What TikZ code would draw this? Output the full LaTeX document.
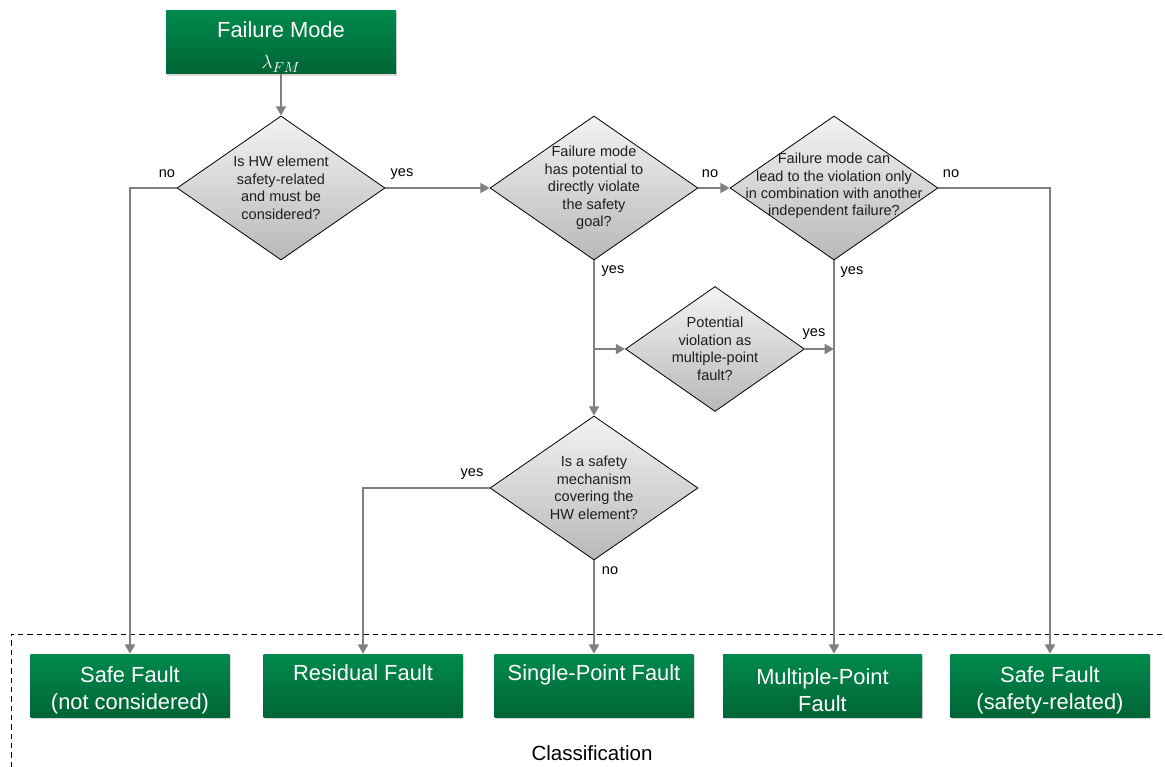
\documentclass[tikz,border=0pt]{standalone}
\usepackage{fontspec}
\setmainfont{Liberation Sans}
\usetikzlibrary{shapes.geometric,arrows.meta,shadows}
\definecolor{boxtop}{RGB}{0,138,76}
\definecolor{boxbot}{RGB}{0,101,54}
\definecolor{dtop}{RGB}{243,243,243}
\definecolor{dbot}{RGB}{184,184,184}
\definecolor{flow}{RGB}{128,128,128}
\definecolor{dtxt}{RGB}{30,30,30}

\begin{document}
\begin{tikzpicture}[x=0.75pt,y=-0.75pt,
  greenbox/.style={rectangle, inner sep=0pt, minimum width=149.25pt, minimum height=47.25pt,
    top color=boxtop, bottom color=boxbot,
    drop shadow={shadow xshift=0.9pt, shadow yshift=-1.6pt, opacity=0.3}},
  boxtext/.style={align=center, text=white, inner sep=0pt,
    font=\fontsize{16.4}{20.3}\selectfont},
  decision/.style={diamond, draw=black, line width=0.6pt, inner sep=0pt,
    top color=dtop, bottom color=dbot, minimum width=156pt, minimum height=108pt},
  smalldecision/.style={decision, minimum width=134.25pt, minimum height=93.75pt},
  qtext/.style={align=center, text=dtxt, inner sep=0pt,
    font=\fontsize{10.9}{13.1}\selectfont},
  answer/.style={font=\fontsize{10.9}{13.1}\selectfont, inner sep=0pt},
  flowarrow/.style={draw=flow, line width=1.4pt,
    -{Triangle[length=7pt,width=7.5pt]}}
]
\useasboundingbox (0,0) rectangle (1165,767);

% start node
\node[greenbox, minimum width=172.5pt,
  label={[boxtext, yshift=-3.5pt]center:{Failure Mode\\[3pt]{\fontsize{15}{17}\selectfont$\lambda_{FM}$}}}] (fm) at (281,42.5) {};

% decisions
\node[decision, label={[qtext]center:{Is HW element\\safety-related\\and must be\\considered?}}] (d1) at (281,188) {};
\node[decision, label={[qtext]center:{Failure mode\\has potential to\\directly violate\\the safety\\goal?}}] (d2) at (594,188) {};
\node[decision, label={[qtext, yshift=1.5pt]center:{Failure mode can\\lead to the violation only\\in combination with another\\independent failure?}}] (d3) at (834,188) {};
\node[smalldecision, label={[qtext]center:{Potential\\violation as\\multiple-point\\fault?}}] (d4) at (715,349) {};
\node[decision, label={[qtext]center:{Is a safety\\mechanism\\covering the\\HW element?}}] (d5) at (594,488) {};

% classification results
\node[greenbox, label={[boxtext, yshift=-3.6pt]center:{Safe Fault\\(not considered)}}] (b1) at (130,685.5) {};
\node[greenbox, label={[boxtext, yshift=-3.6pt]center:{Residual Fault\\\strut}}] (b2) at (363,685.5) {};
\node[greenbox, label={[boxtext, yshift=-3.6pt]center:{Single-Point Fault\\\strut}}] (b3) at (594,685.5) {};
\node[greenbox, label={[boxtext, yshift=-3.6pt]center:{Multiple-Point\\Fault}}] (b4) at (822.5,685.5) {};
\node[greenbox, label={[boxtext, yshift=-3.6pt]center:{Safe Fault\\(safety-related)}}] (b5) at (1050,685.5) {};

% classification frame
\coordinate (frameA) at (11,767);
\coordinate (frameB) at (11,634);
\coordinate (frameC) at (1165,634);
\draw[black, line width=0.7pt, dash pattern=on 4pt off 3pt] (frameA) -- (frameB) -- (frameC);
\node[font=\fontsize{15.4}{18}\selectfont] (cls) at (592,753) {Classification};

% connectors
\draw[flowarrow] (fm.south) -- (d1.north);
\draw[flowarrow] (d1.west) -| (b1.north);
\draw[flowarrow] (d1.east) -- (d2.west);
\draw[flowarrow] (d2.east) -- (d3.west);
\draw[flowarrow] (d3.east) -| (b5.north);
\draw[flowarrow] (d2.south) -- (d5.north);
\draw[flowarrow] (d2.south |- d4.west) -- (d4.west);
\draw[flowarrow] (d4.east) -- (d4.east -| d3.south);
\draw[flowarrow] (d3.south) -- (d3.south |- b4.north);
\draw[flowarrow] (d5.west) -| (b2.north);
\draw[flowarrow] (d5.south) -- (b3.north);

% answers
\node[answer] (a1) at (167,174) {no};
\node[answer] (a2) at (402,174) {yes};
\node[answer] (a3) at (710,174) {no};
\node[answer] (a4) at (951,174) {no};
\node[answer] (a5) at (613,271) {yes};
\node[answer] (a6) at (852,272) {yes};
\node[answer] (a7) at (814,334) {yes};
\node[answer] (a8) at (472,474) {yes};
\node[answer] (a9) at (610,571) {no};
\end{tikzpicture}
\end{document}
